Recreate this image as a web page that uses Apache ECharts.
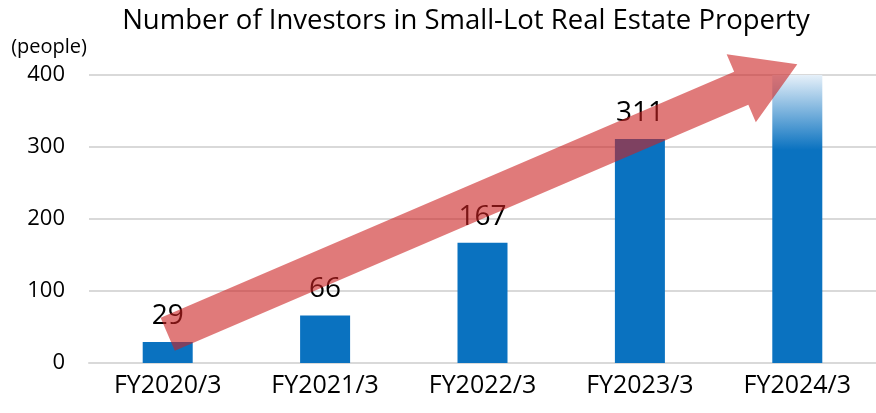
<!DOCTYPE html>
<html>
<head>
<meta charset="utf-8">
<script src="https://cdn.jsdelivr.net/npm/echarts@6/dist/echarts.min.js"></script>
<style>
  html, body { margin: 0; padding: 0; background: #fff; }
  #chart { width: 876px; height: 413px; }
</style>
</head>
<body>
<div id="chart"></div>
<script>
var categories = ['FY2020/3', 'FY2021/3', 'FY2022/3', 'FY2023/3', 'FY2024/3'];
var investors = [29, 66, 167, 311, 400];
var showLabel = [true, true, true, true, false];
var yTicks = [0, 100, 200, 300, 400];
// arrow from (category index, value) to (category index, value)
var arrowFrom = [0, 40];
var arrowTo = [4, 415];

var font = 'Open Sans';
var blue = '#0a72c0';

var barData = investors.map(function (v, i) {
    var item = { value: v, label: { show: showLabel[i] } };
    if (i === investors.length - 1) {
        item.itemStyle = {
            color: new echarts.graphic.LinearGradient(0, 0, 0, 1, [
                { offset: 0, color: '#e6f0f9' },
                { offset: 0.26, color: blue },
                { offset: 1, color: blue }
            ])
        };
    }
    return item;
});

var myChart = echarts.init(document.getElementById('chart'));
var option = {
    animation: false,
    title: {
        text: 'Number of Investors in Small-Lot Real Estate Property',
        left: 461,
        textAlign: 'center',
        top: 2,
        textStyle: { fontFamily: font, fontSize: 27.5, fontWeight: 'normal', color: '#000' }
    },
    grid: { left: 89, top: 75, width: 795, height: 288, containLabel: false },
    xAxis: {
        type: 'category',
        data: categories,
        axisLine: { show: true, lineStyle: { color: '#d9d9d9', width: 2 } },
        axisTick: { show: false },
        axisLabel: { fontFamily: font, fontSize: 25, color: '#000', margin: 10 }
    },
    yAxis: {
        type: 'value',
        min: yTicks[0],
        max: yTicks[yTicks.length - 1],
        interval: 100,
        name: '(people)',
        nameGap: 18,
        nameTextStyle: { fontFamily: font, fontSize: 20, color: '#000', align: 'right', padding: [0, 2, 0, 0] },
        axisLine: { show: false },
        axisTick: { show: false },
        axisLabel: { fontFamily: font, fontSize: 22, color: '#000', margin: 24 },
        splitLine: { lineStyle: { color: '#d9d9d9', width: 2 } }
    },
    series: [{
        type: 'bar',
        data: barData,
        barWidth: 50,
        itemStyle: { color: blue },
        label: {
            show: true,
            position: 'top',
            distance: 12,
            fontFamily: font,
            fontSize: 28,
            color: '#000'
        }
    }]
};
myChart.setOption(option);

function drawArrow() {
    var p0 = myChart.convertToPixel({ gridIndex: 0 }, [categories[arrowFrom[0]], arrowFrom[1]]);
    var p1 = myChart.convertToPixel({ gridIndex: 0 }, [categories[arrowTo[0]], arrowTo[1]]);
    var dx = p1[0] - p0[0], dy = p1[1] - p0[1];
    var len = Math.sqrt(dx * dx + dy * dy);
    var ux = dx / len, uy = dy / len;
    var px = -uy, py = ux;
    var shaftHalf = 18, headHalf = 37, headLen = 61;
    function pt(u, v) { return [p0[0] + ux * u + px * v, p0[1] + uy * u + py * v]; }
    var b = len - headLen;
    var points = [
        pt(0, -shaftHalf), pt(b, -shaftHalf), pt(b, -headHalf), pt(len, 0),
        pt(b, headHalf), pt(b, shaftHalf), pt(0, shaftHalf)
    ];
    myChart.setOption({
        graphic: [{
            type: 'polygon',
            z: 100,
            shape: { points: points },
            style: { fill: 'rgba(203,33,33,0.6)' }
        }]
    });
}
drawArrow();
</script>
</body>
</html>
